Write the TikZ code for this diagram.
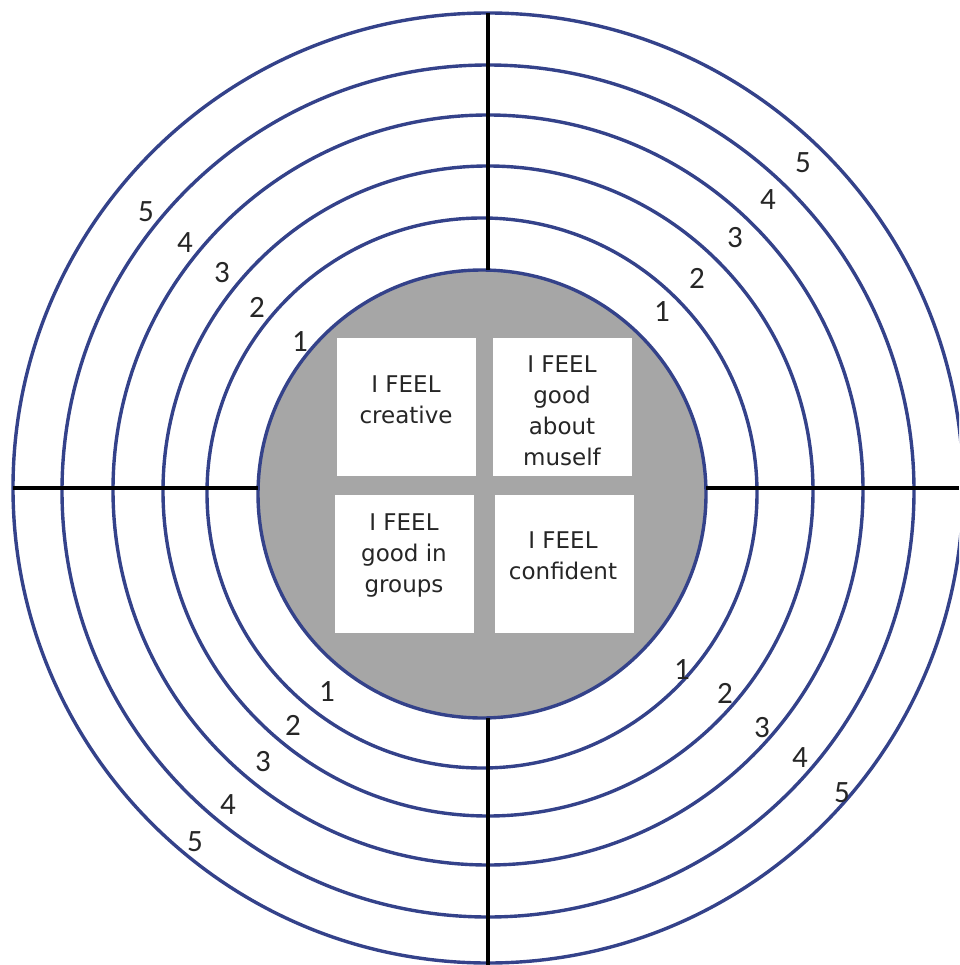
\documentclass[tikz,border=0pt]{standalone}
\usepackage{fontspec}
\setmainfont{Carlito}
\newfontfamily\handfont{DejaVu Sans}
\definecolor{ringblue}{RGB}{52,66,138}
\definecolor{discgray}{RGB}{166,166,166}
\begin{document}
\begin{tikzpicture}[x=1pt,y=-1pt,
  ring/.style={circle, draw=ringblue, line width=3.4pt, inner sep=0pt, outer sep=0pt, minimum size=#1},
  axis/.style={draw=black, line width=3.6pt},
  num/.style={font=\fontsize{31}{31}\selectfont, inner sep=0pt, text=black!85},
  card/.style={fill=white, draw=none, minimum width=139pt, minimum height=138pt, inner sep=0pt},
  feel/.style={font=\handfont\fontsize{23}{31}\selectfont, align=center, inner sep=0pt, text=black!85}]
\useasboundingbox (0,0) rectangle (959,965);
\begin{scope}
\clip (0,0) rectangle (959,965);
\node[ring=950pt] (r5) at (488,488) {};
\node[ring=852pt] (r4) at (488,491) {};
\node[ring=750pt] (r3) at (488,490) {};
\node[ring=650pt] (r2) at (488,491) {};
\node[ring=550pt] (r1) at (482,493) {};
\node[ring=448pt, fill=discgray] (disc) at (482,494) {};
\coordinate (bottomend) at (488,965);
\coordinate (rightend) at (959,488);
\draw[axis] (r5.north) -- (r5.north |- disc.north);
\draw[axis] (r5.north |- disc.south) -- (bottomend);
\draw[axis] (r5.west) -- (r5.west -| disc.west);
\draw[axis] (r5.west -| disc.east) -- (rightend);
\end{scope}
% cards
\node[card] (c1) at (406.5,407) {};
\node[card] (c2) at (562.5,407) {};
\node[card] (c3) at (404,564) {};
\node[card] (c4) at (564,564) {};
\node[feel] (t1) at (406,400) {I FEEL\\creative};
\node[feel] (t2) at (562,411) {I FEEL\\good\\about\\muself};
\node[feel] (t3) at (404,556) {I FEEL\\good in\\groups};
\node[feel] (t4) at (563,556) {I FEEL\\confident};
% labels upper left
\node[num] (ul5) at (146,212) {5};
\node[num] (ul4) at (185,243) {4};
\node[num] (ul3) at (222,273) {3};
\node[num] (ul2) at (257,307) {2};
\node[num] (ul1) at (300,342) {1};
% upper right
\node[num] (ur5) at (803,163) {5};
\node[num] (ur4) at (768,200) {4};
\node[num] (ur3) at (735,238) {3};
\node[num] (ur2) at (697,278) {2};
\node[num] (ur1) at (662,312) {1};
% lower left
\node[num] (ll1) at (327,692) {1};
\node[num] (ll2) at (293,725) {2};
\node[num] (ll3) at (263,762) {3};
\node[num] (ll4) at (228,805) {4};
\node[num] (ll5) at (195,842) {5};
% lower right
\node[num] (lr1) at (682,670) {1};
\node[num] (lr2) at (725,693) {2};
\node[num] (lr3) at (762,728) {3};
\node[num] (lr4) at (800,758) {4};
\node[num] (lr5) at (842,793) {5};
\end{tikzpicture}
\end{document}
